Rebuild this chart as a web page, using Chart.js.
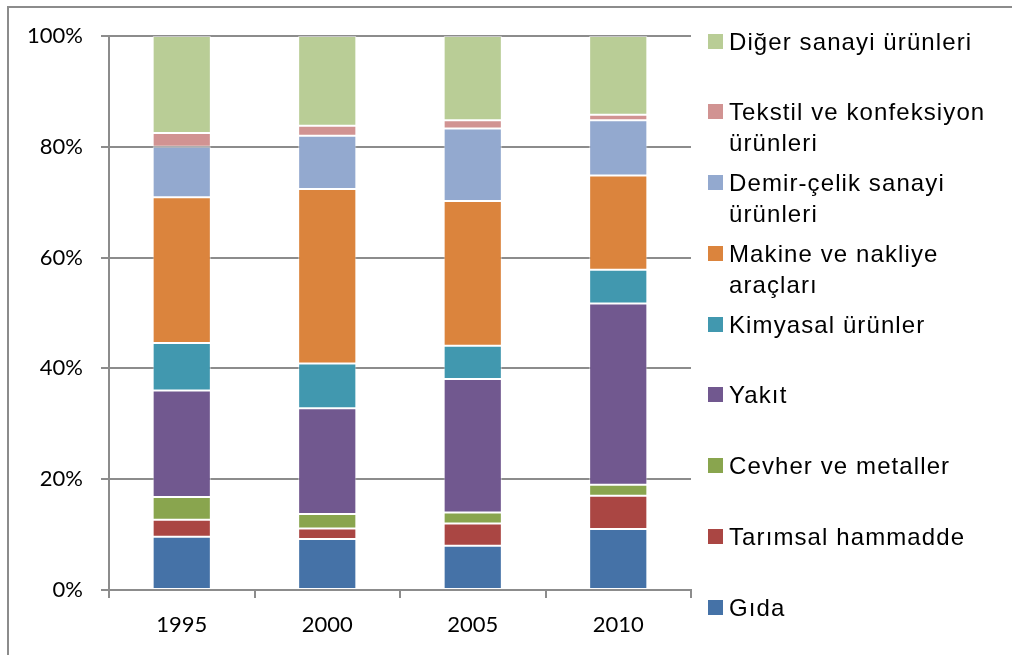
<!DOCTYPE html>
<html>
<head>
<meta charset="utf-8">
<script src="https://cdn.jsdelivr.net/npm/chart.js@4"></script>
<style>
    html, body { margin: 0; padding: 0; background: #fff; }
    #wrap { position: relative; width: 1012px; height: 655px; overflow: hidden; }
    #frame { position: absolute; left: 7px; top: 6px; width: 1100px; height: 700px; border: 2px solid #8c8c8c; box-sizing: border-box; }
    #myChart { position: absolute; left: 0; top: 0; }
    #legend { position: absolute; left: 708px; top: 0; }
    .item { position: absolute; left: 0; width: 300px; font-family: Arial, 'Liberation Sans', Helvetica, sans-serif; font-size: 24px; letter-spacing: 1.1px; line-height: 31px; color: #000; }
    .box { position: absolute; left: 0; top: 8px; width: 15px; height: 15px; }
    .txt { position: absolute; left: 21px; top: 0; width: 278px; }
</style>
</head>
<body>
<div id="wrap">
    <div id="frame"></div>
    <canvas id="myChart" width="1012" height="655"></canvas>
    <div id="legend"></div>
</div>
<script>
// yillar
const yillar = ['1995', '2000', '2005', '2010'];

// seriler (yuzde)
const gida      = [9.6, 9.2, 8.0, 11.0];
const tarimsal  = [3.1, 1.9, 4.0, 6.0];
const cevher    = [4.1, 2.6, 2.0, 2.0];
const yakit     = [19.2, 19.1, 24.1, 32.7];
const kimyasal  = [8.6, 8.1, 6.0, 6.1];
const makine    = [26.3, 31.5, 26.1, 17.0];
const demir     = [9.1, 9.6, 13.1, 10.0];
const tekstil   = [2.5, 1.8, 1.5, 1.0];
const diger     = [17.5, 16.2, 15.2, 14.2];

const seriAdlari = ['Gıda', 'Tarımsal hammadde', 'Cevher ve metaller', 'Yakıt', 'Kimyasal ürünler',
    'Makine ve nakliye araçları', 'Demir-çelik sanayi ürünleri', 'Tekstil ve konfeksiyon ürünleri', 'Diğer sanayi ürünleri'];
const renkler = ['#4572A7', '#AA4643', '#89A54E', '#71588F', '#4198AF', '#DB843D', '#93A9CF', '#D19392', '#B9CD96'];

const yTikler = [0, 20, 40, 60, 80, 100];

const seriler = [gida, tarimsal, cevher, yakit, kimyasal, makine, demir, tekstil, diger];

const datasets = seriler.map(function (d, i) {
    return {
        label: seriAdlari[i],
        data: d,
        backgroundColor: renkler[i],
        borderColor: 'rgba(255,255,255,0.5)',
        borderWidth: 1,
        borderSkipped: false,
        barPercentage: 0.4,
        categoryPercentage: 1
    };
});

const config = {
    type: 'bar',
    data: {
        labels: yillar,
        datasets: datasets
    },
    options: {
        responsive: false,
        animation: false,
        layout: {
            padding: { left: 0, top: 36, right: 321, bottom: 0 }
        },
        plugins: {
            legend: { display: false },
            tooltip: { enabled: false }
        },
        scales: {
            x: {
                stacked: true,
                afterFit: function (scale) { scale.height = 65; },
                grid: {
                    drawOnChartArea: false,
                    drawTicks: true,
                    tickLength: 8,
                    color: '#8c8c8c',
                    lineWidth: 2
                },
                border: { color: '#8c8c8c', width: 2 },
                ticks: {
                    color: '#000',
                    padding: 14,
                    font: { family: 'Lato, "Open Sans", sans-serif', size: 22 }
                }
            },
            y: {
                stacked: true,
                min: 0,
                max: 100,
                afterFit: function (scale) { scale.width = 109; },
                afterBuildTicks: function (scale) {
                    scale.ticks = yTikler.map(function (v) { return { value: v }; });
                },
                grid: {
                    color: '#8c8c8c',
                    lineWidth: 2,
                    tickLength: 8
                },
                border: { color: '#8c8c8c', width: 2 },
                ticks: {
                    color: '#000',
                    padding: 18,
                    font: { family: 'Lato, "Open Sans", sans-serif', size: 22 },
                    callback: function (v) { return v + '%'; }
                }
            }
        }
    }
};

const myChart = new Chart(document.getElementById('myChart'), config);

// legend: ters sirada, ustten alta
const legend = document.getElementById('legend');
for (let i = seriAdlari.length - 1, k = 0; i >= 0; i--, k++) {
    const item = document.createElement('div');
    item.className = 'item';
    item.style.top = (41 + k * 70.75 - 15.5) + 'px';
    item.innerHTML = '<div class="box" style="background:' + renkler[i] + '"></div><div class="txt">' + seriAdlari[i] + '</div>';
    legend.appendChild(item);
}
</script>
</body>
</html>
